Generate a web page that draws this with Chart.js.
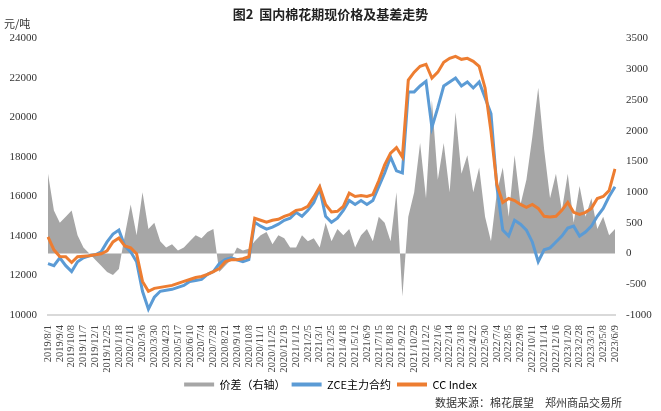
<!DOCTYPE html>
<html><head><meta charset="utf-8">
<script src="https://cdn.jsdelivr.net/npm/chart.js@4"></script>
<style>html,body{margin:0;padding:0;background:#fff}</style>
</head><body><canvas id="c" width="661" height="411"></canvas>
<script>
const tickDates=["2019/8/1","2019/9/4","2019/10/8","2019/11/7","2019/12/1","2019/12/25","2020/1/18","2020/2/11","2020/3/6","2020/3/30","2020/4/23","2020/5/17","2020/6/10","2020/7/4","2020/7/28","2020/8/21","2020/9/14","2020/10/8","2020/11/1","2020/11/25","2020/12/19","2021/1/12","2021/2/5","2021/3/1","2021/3/25","2021/4/18","2021/5/12","2021/6/9","2021/7/15","2021/8/18","2021/9/22","2021/10/29","2021/12/2","2022/1/6","2022/2/14","2022/3/18","2022/4/22","2022/5/30","2022/7/4","2022/8/5","2022/9/8","2022/10/11","2022/11/14","2022/12/16","2023/1/20","2023/2/28","2023/3/31","2023/5/8","2023/6/9"];
const ccIndex=[13960,13300,12960,12950,12660,12950,12980,13000,13050,13100,13250,13700,13900,13500,13400,13100,11700,11200,11350,11400,11450,11500,11600,11700,11800,11900,11950,12060,12200,12350,12700,12800,12800,12850,12950,14900,14800,14700,14800,14850,15000,15100,15300,15350,15500,15970,16500,15600,15220,15250,15500,16170,16000,16050,16000,16100,16800,17600,18200,18480,18000,21900,22300,22600,22700,22000,22300,22800,23000,23100,22950,23000,22850,22600,21500,19300,16600,15700,15900,15800,15600,15450,15600,15400,15000,14970,15000,15300,15700,15200,15100,15200,15400,15900,16000,16300,17400];
const zce=[12600,12500,12900,12500,12200,12700,12900,13000,13050,13200,13700,14100,14300,13500,13200,12700,11200,10300,10900,11200,11250,11300,11400,11500,11700,11750,11800,12060,12200,12600,12800,12900,12800,12700,12800,14700,14500,14350,14450,14600,14800,14900,15200,15000,15300,15700,16400,15000,14700,14900,15300,15800,15600,15800,15600,15800,16500,17200,18000,17300,17200,21300,21300,21600,21840,19500,20500,21600,21800,22000,21600,21800,21500,21800,21000,20200,16500,14300,14000,14800,14600,14300,13700,12700,13300,13400,13700,14000,14400,14500,14000,14200,14500,15000,15400,16000,16500];
const spread=[1300,700,500,600,700,300,100,0,-100,-200,-300,-350,-250,300,800,300,1000,400,500,200,100,150,50,100,200,300,250,350,400,-300,-200,-100,100,50,80,200,300,350,150,300,250,100,100,300,200,250,100,500,200,400,300,400,100,300,400,200,600,500,200,1000,-700,600,1000,1800,900,2500,1200,1800,1000,2300,1300,1600,1000,1400,600,200,1000,1400,600,1600,800,1200,1900,2700,1700,900,1300,700,1300,500,1100,600,900,400,600,300,400];
const labels=[];
for(let i=0;i<ccIndex.length;i++){labels.push(i%2===0?tickDates[i/2]:'');}
const serif="'Liberation Serif','Noto Sans CJK SC',serif";
const extra={id:'extra',afterDraw(ch){const c=ch.ctx;c.save();c.fillStyle='#333';c.font="11px 'Noto Sans CJK SC'";c.textAlign='left';c.fillText('元/吨',4,24);c.textAlign='right';c.fillText('数据来源：棉花展望　郑州商品交易所',622,403);c.restore();}};
new Chart(document.getElementById('c'),{
 data:{labels,datasets:[
  {type:'line',label:'价差（右轴）',data:spread,yAxisID:'y1',borderWidth:0,pointRadius:0,backgroundColor:'#a6a6a6',borderColor:'#a6a6a6',fill:'origin',order:3},
  {type:'line',label:'ZCE主力合约',data:zce,yAxisID:'y',borderColor:'#5b9bd5',backgroundColor:'#5b9bd5',borderWidth:3,pointRadius:0,order:2},
  {type:'line',label:'CC Index',data:ccIndex,yAxisID:'y',borderColor:'#ed7d31',backgroundColor:'#ed7d31',borderWidth:3,pointRadius:0,order:1}
 ]},
 options:{responsive:false,animation:false,maintainAspectRatio:false,
  layout:{padding:{left:0,right:0,top:0,bottom:11}},
  plugins:{title:{display:true,text:'图2  国内棉花期现价格及基差走势',font:{family:"'Noto Sans CJK SC'",size:13,weight:'bold'},color:'#222',padding:{top:6,bottom:17}},
   legend:{position:'bottom',labels:{font:{family:"'Noto Sans CJK SC'",size:11},color:'#444',boxWidth:30,boxHeight:4,padding:6,
     generateLabels(ch){return ch.data.datasets.map((d,i)=>({text:d.label,fillStyle:d.borderColor,strokeStyle:d.borderColor,lineWidth:0,datasetIndex:i}));}}},
   tooltip:{enabled:false}},
  scales:{
   x:{grid:{display:false},border:{color:'#d9d9d9',width:2},afterFit(s){s.height=58;},ticks:{autoSkip:false,maxRotation:90,minRotation:90,padding:2,font:{family:serif,size:10.5},color:'#444',callback(v){return labels[v];}}},
   y:{position:'left',min:10000,max:24000,grid:{display:false},border:{display:false},afterFit(s){s.width=48;},ticks:{stepSize:2000,font:{family:serif,size:11},color:'#333',callback:v=>String(v)}},
   y1:{position:'right',min:-1000,max:3500,grid:{display:false},border:{display:false},afterFit(s){s.width=46;},ticks:{stepSize:500,font:{family:serif,size:11},color:'#333',callback:v=>String(v)}}
  }}
 ,plugins:[extra]});
</script></body></html>
